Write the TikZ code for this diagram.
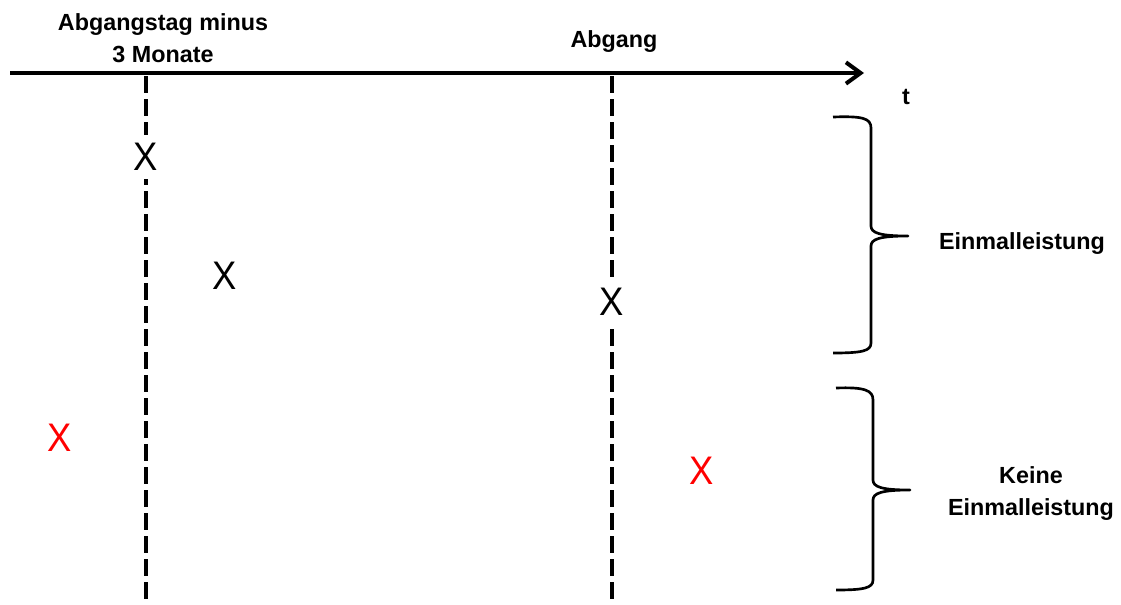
\documentclass[tikz,border=0pt]{standalone}
\usepackage{fontspec}
\setmainfont{Liberation Sans}
\usetikzlibrary{arrows.meta}
\begin{document}
\begin{tikzpicture}[x=0.75pt,y=-0.75pt,
  lbl/.style={font=\fontsize{17.5}{24}\selectfont\bfseries, align=center, inner sep=0pt},
  xmark/.style={font=\fontsize{26}{28}\selectfont, inner xsep=1pt, inner ysep=6pt},
  dline/.style={line width=3pt, dash pattern=on 12.75pt off 4.5pt},
  brace/.style={line width=2pt, line join=round}]
\useasboundingbox (0,0) rectangle (1121,604);
\newcommand{\xx}{\scalebox{1.05}[1.15]{X}}
% axis
\coordinate (a0) at (10,73);
\coordinate (a1) at (864,73);
\draw[line width=3pt, -{Straight Barb[length=11pt,width=16pt,line width=3pt]}] (a0) -- (a1);
\node[lbl] (t) at (906,97) {t};
% dashed lines
\coordinate (d1t) at (146,76);
\coordinate (d1b) at (146,600);
\coordinate (d2t) at (612,76);
\coordinate (d2b) at (612,600);
\draw[dline] (d1t) -- (d1b);
\draw[dline] (d2t) -- (d2b);
% labels
\node[lbl] (l1) at (163,38) {Abgangstag minus\\3 Monate};
\node[lbl] (l2) at (614,42) {Abgang};
% marks
\node[xmark, fill=white] (x1) at (146,157) {\xx};
\node[xmark] (x2) at (225,276) {\xx};
\node[xmark, fill=white] (x3) at (612,302) {\xx};
\node[xmark, text=red] (x4) at (60,438) {\xx};
\node[xmark, text=red] (x5) at (702,471) {\xx};
% braces
\draw[brace] (833,117) .. controls (862,116) and (871,118) .. (871,128) -- (871,226)
  .. controls (871,233) and (880,236) .. (908,236)
  .. controls (880,236) and (871,239) .. (871,246) -- (871,343)
  .. controls (871,351) and (862,353) .. (833,353);
\draw[brace] (836,388) .. controls (864,387) and (873,390) .. (873,400) -- (873,480)
  .. controls (873,487) and (882,490) .. (910,490)
  .. controls (882,490) and (873,493) .. (873,500) -- (873,580)
  .. controls (873,588) and (864,590) .. (836,590);
\node[lbl] (e1) at (1022,244) {Einmalleistung};
\node[lbl] (e2) at (1031,494) {Keine\\Einmalleistung};
\end{tikzpicture}
\end{document}
